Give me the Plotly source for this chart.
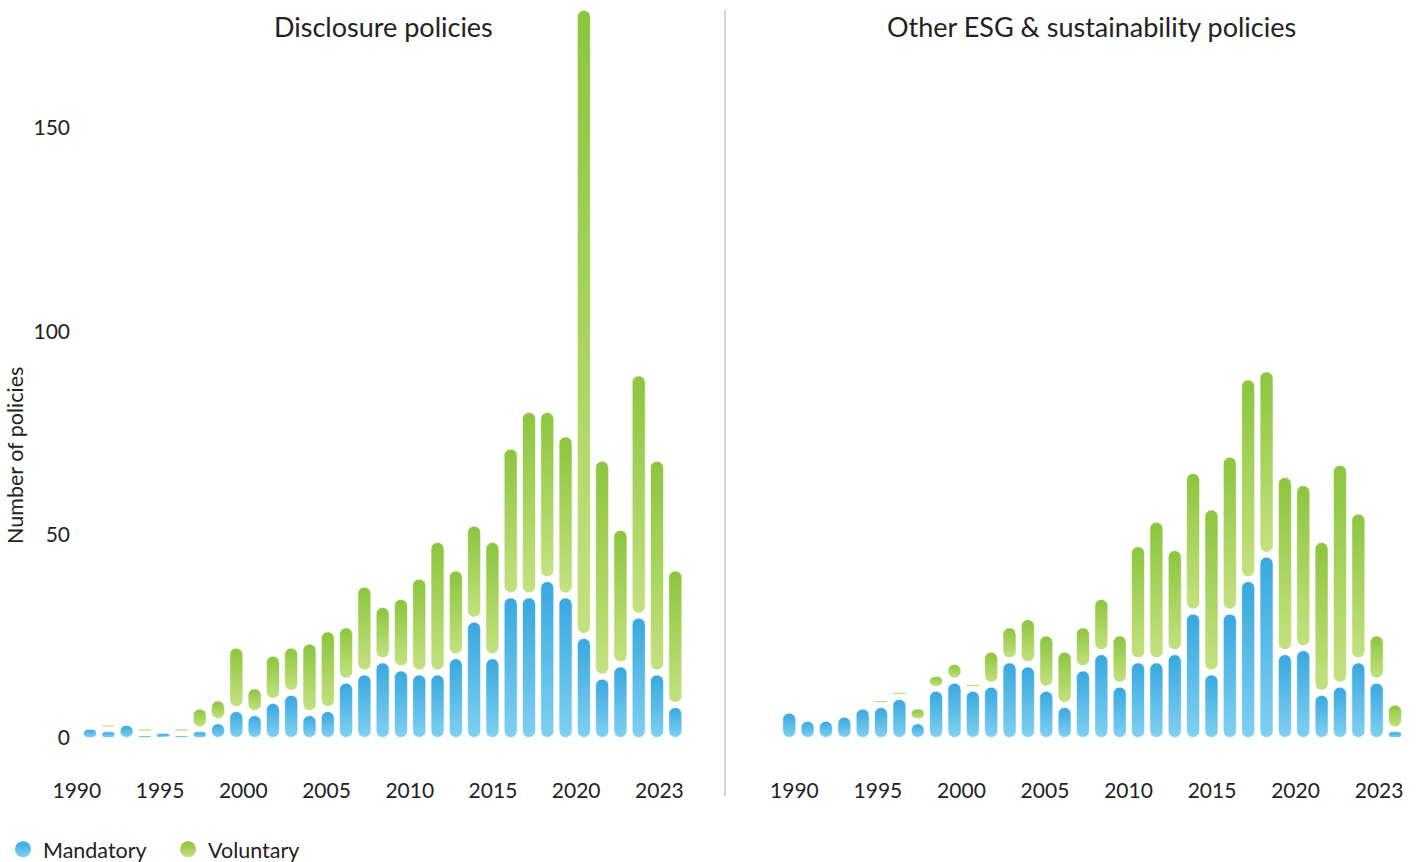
import numpy as np
import plotly.graph_objects as go

# ---- data -------------------------------------------------------------
years = list(range(1990, 2024))

disclosure_mandatory = [0, 2, 2, 3, 1, 1, 1, 2, 4, 7, 6, 9, 11, 6, 7, 14, 16, 19, 17, 16,
                        16, 20, 29, 20, 35, 35, 39, 35, 25, 15, 18, 30, 16, 8]
disclosure_voluntary = [0, 0, 1, 0, 1, 0, 1, 5, 5, 15, 6, 11, 11, 17, 19, 13, 21, 13, 17, 23,
                        32, 21, 23, 28, 36, 45, 41, 39, 154, 53, 33, 59, 52, 33]

other_mandatory = [6, 4, 4, 5, 7, 8, 10, 4, 12, 14, 12, 13, 19, 18, 12, 8, 17, 21, 13, 19,
                   19, 21, 31, 16, 31, 39, 45, 21, 22, 11, 13, 19, 14, 2]
other_voluntary = [0, 0, 0, 0, 0, 1, 1, 3, 3, 4, 1, 8, 8, 11, 13, 13, 10, 13, 12, 28,
                   34, 25, 34, 40, 38, 49, 45, 43, 40, 37, 54, 36, 11, 6]

tick_labels = ["1990", "1995", "2000", "2005", "2010", "2015", "2020", "2023"]
y_ticks = [0, 50, 100, 150]

panel_titles = ["Disclosure policies", "Other ESG & sustainability policies"]
series_names = ["Mandatory", "Voluntary"]

# ---- styling ----------------------------------------------------------
W, H = 1416, 862
FONT = "Lato"
TEXT = "#222222"
BLUE_TOP, BLUE_BOTTOM = "rgb(56,168,223)", "rgb(128,208,241)"
GREEN_TOP, GREEN_BOTTOM = "rgb(140,197,62)", "rgb(196,225,128)"

BAR_W_PX = 13.0     # capsule width
GAP_PX = 5.0        # white gap between stacked capsules
MIN_H_PX = 1.5

# axis geometry (pixels) -> domains
Y_RANGE = [-9.48, 180.0]
Y_DOMAIN_PX = [86.0, 855.8]          # measured from the bottom of the figure
X_RANGES = [[-0.04, 34.0], [-1.0, 34.0]]
X_DOMAIN_PX = [[71.0, 693.6], [770.9, 1413.4]]

px_per_unit_y = (Y_DOMAIN_PX[1] - Y_DOMAIN_PX[0]) / (Y_RANGE[1] - Y_RANGE[0])
px_per_unit_x = [(d[1] - d[0]) / (r[1] - r[0]) for d, r in zip(X_DOMAIN_PX, X_RANGES)]


def capsule(cx, y0, y1, pxx, pxy, n=10):
    """Rounded-rectangle outline (radius = half the short side) in data units."""
    h = (y1 - y0) * pxy
    if h < MIN_H_PX:
        mid = (y0 + y1) / 2
        y0, y1 = mid - MIN_H_PX / 2 / pxy, mid + MIN_H_PX / 2 / pxy
        h = MIN_H_PX
    a, b = BAR_W_PX / 2, h / 2
    r = min(a, b)
    cy_px = (y0 + y1) / 2 * pxy
    cx_px = cx * pxx
    xs, ys = [], []
    corners = [(a - r, b - r, 0), (-(a - r), b - r, 90),
               (-(a - r), -(b - r), 180), (a - r, -(b - r), 270)]
    for ox, oy, start in corners:
        t = np.radians(np.linspace(start, start + 90, n))
        xs.extend((cx_px + ox + r * np.cos(t)) / pxx)
        ys.extend((cy_px + oy + r * np.sin(t)) / pxy)
    xs.append(xs[0])
    ys.append(ys[0])
    return xs, ys


def seg_trace(xs, ys, top, bottom, axis_idx, name):
    return go.Scatter(
        x=xs, y=ys, mode="lines", fill="toself",
        line=dict(width=0.8, color="rgba(255,255,255,0.75)"),
        fillgradient=dict(type="vertical", colorscale=[[0, bottom], [1, top]]),
        xaxis="x" if axis_idx == 0 else "x2",
        yaxis="y" if axis_idx == 0 else "y2",
        name=name, showlegend=False, hoverinfo="skip",
    )


fig = go.Figure()
panels = [(disclosure_mandatory, disclosure_voluntary),
          (other_mandatory, other_voluntary)]

for p, (mand, vol) in enumerate(panels):
    pxx, pxy = px_per_unit_x[p], px_per_unit_y
    half_gap = GAP_PX / 2 / pxy
    for i, (m, v) in enumerate(zip(mand, vol)):
        if m > 0:
            top = m - (half_gap if v > 0 else 0)
            xs, ys = capsule(i, 0, top, pxx, pxy)
            fig.add_trace(seg_trace(xs, ys, BLUE_TOP, BLUE_BOTTOM, p,
                                    f"{series_names[0]} {years[i]}"))
        if v > 0:
            bottom = m + (half_gap if m > 0 else 0)
            xs, ys = capsule(i, bottom, m + v, pxx, pxy)
            fig.add_trace(seg_trace(xs, ys, GREEN_TOP, GREEN_BOTTOM, p,
                                    f"{series_names[1]} {years[i]}"))

# legend entries
for name, top, bottom in [(series_names[0], BLUE_TOP, BLUE_BOTTOM),
                          (series_names[1], GREEN_TOP, GREEN_BOTTOM)]:
    fig.add_trace(go.Scatter(
        x=[None], y=[None], mode="markers", name=name,
        marker=dict(symbol="circle", size=22, color=top,
                    gradient=dict(type="vertical", color=bottom)),
        showlegend=True,
    ))

tick_pos = list(np.linspace(0.28, 32.13, len(tick_labels)))

axis_common = dict(showgrid=False, zeroline=False, showline=False, ticks="",
                   automargin=False,
                   tickfont=dict(family=FONT, size=21, color=TEXT))

fig.update_layout(
    width=W, height=H,
    margin=dict(l=0, r=0, t=0, b=0, autoexpand=False),
    paper_bgcolor="white", plot_bgcolor="white",
    font=dict(family=FONT, color=TEXT),
    xaxis=dict(domain=[X_DOMAIN_PX[0][0] / W, X_DOMAIN_PX[0][1] / W],
               range=X_RANGES[0], tickvals=tick_pos, ticktext=tick_labels,
               anchor="y", **axis_common),
    xaxis2=dict(domain=[X_DOMAIN_PX[1][0] / W, X_DOMAIN_PX[1][1] / W],
                range=X_RANGES[1], tickvals=tick_pos, ticktext=tick_labels,
                anchor="y2", **axis_common),
    yaxis=dict(domain=[Y_DOMAIN_PX[0] / H, Y_DOMAIN_PX[1] / H],
               range=Y_RANGE, tickvals=y_ticks, anchor="x", **axis_common),
    yaxis2=dict(domain=[Y_DOMAIN_PX[0] / H, Y_DOMAIN_PX[1] / H],
                range=Y_RANGE, showticklabels=False, anchor="x2",
                **{k: v for k, v in axis_common.items() if k != "tickfont"}),
    showlegend=True,
    legend=dict(orientation="h", x=3 / W, xanchor="left", y=-0.009, yanchor="bottom",
                font=dict(family=FONT, size=21.5, color=TEXT),
                entrywidth=120, entrywidthmode="pixels",
                itemsizing="trace", bgcolor="rgba(0,0,0,0)"),
    annotations=[
        dict(text=panel_titles[0], x=383 / W, y=1 - 27 / H, xref="paper", yref="paper",
             showarrow=False, xanchor="center", yanchor="middle",
             font=dict(family=FONT, size=27, color=TEXT)),
        dict(text=panel_titles[1], x=1091 / W, y=1 - 27 / H, xref="paper", yref="paper",
             showarrow=False, xanchor="center", yanchor="middle",
             font=dict(family=FONT, size=27, color=TEXT)),
        dict(text="Number of policies", x=15 / W, y=1 - 456 / H, xref="paper", yref="paper",
             showarrow=False, textangle=-90, xanchor="center", yanchor="middle",
             font=dict(family=FONT, size=21.5, color=TEXT)),
    ],
    shapes=[dict(type="line", xref="paper", yref="paper",
                 x0=725 / W, x1=725 / W, y0=1 - 796 / H, y1=1 - 10 / H,
                 line=dict(color="#d4d4d4", width=2))],
)

fig.write_html("out.html")
